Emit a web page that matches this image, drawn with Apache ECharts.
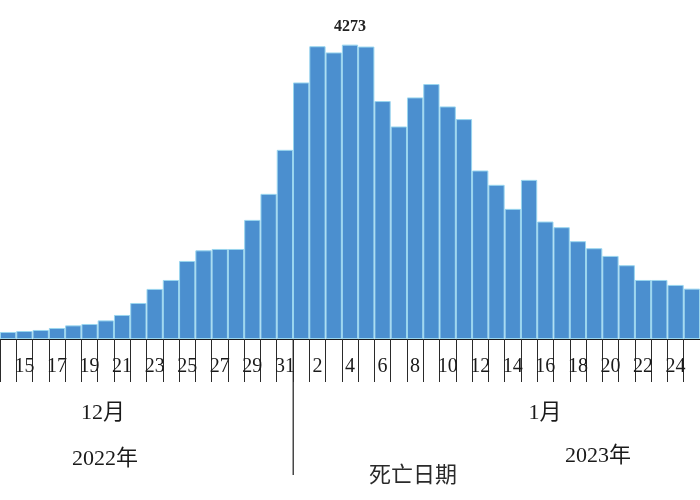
<!DOCTYPE html>
<html>
<head>
<meta charset="utf-8">
<script src="https://cdn.jsdelivr.net/npm/echarts@6/dist/echarts.min.js"></script>
<style>
html,body{margin:0;padding:0;background:#fff;}
#c{width:700px;height:500px;}
</style>
</head>
<body>
<div id="c"></div>
<script>
// Categories: days from 2022-12-14 to 2023-01-25
const days = ['14','15','16','17','18','19','20','21','22','23','24','25','26','27','28','29','30','31',
  '1','2','3','4','5','6','7','8','9','10','11','12','13','14','15','16','17','18','19','20','21','22','23','24','25'];
// Deaths per day
const deaths = [102,116,131,160,198,218,270,349,523,727,857,1133,1287,1307,1307,1729,2107,2746,
  3724,4250,4160,4273,4245,3454,3085,3507,3701,3376,3192,2446,2238,1889,2310,1705,1623,1420,1318,1206,1071,857,857,785,731];
const peakLabel = '4273';
const monthLabels = ['12月','1月'];
const yearLabels = ['2022年','2023年'];
const axisTitle = '死亡日期';

const chart = echarts.init(document.getElementById('c'), null, {renderer:'canvas'});
const serif = '"Liberation Serif","Times New Roman",serif';
const cjk = '"Liberation Serif","Noto Sans CJK SC",serif';
chart.setOption({
  animation:false,
  grid:{left:-3.8, right:-5.7, top:29, bottom:161, containLabel:false},
  xAxis:{
    type:'category',
    data:days,
    boundaryGap:true,
    axisLine:{show:true, lineStyle:{color:'#1a1a1a', width:1}},
    axisTick:{show:true, interval:0, length:43, alignWithLabel:false, lineStyle:{color:'#2a2a2a', width:1}},
    axisLabel:{
      interval:function(i){return i%2===1;},
      fontFamily:serif, fontSize:20, color:'#1a1a1a', margin:18
    }
  },
  yAxis:{type:'value', min:0, max:4500, show:false, splitLine:{show:false}},
  series:[{
    type:'bar',
    data:deaths.map(function(v){
      if (String(v)===peakLabel) {
        return {value:v, label:{show:true, position:'top', distance:10, formatter:peakLabel,
          fontFamily:serif, fontWeight:'bold', fontSize:16, color:'#222'}};
      }
      return v;
    }),
    barCategoryGap:'0%',
    itemStyle:{color:'#4b8fcf', borderColor:'#9ad6ef', borderWidth:1}
  }],
  graphic:[
    {type:'line', shape:{x1:293.2,y1:339,x2:293.2,y2:475}, style:{stroke:'#1a1a1a', lineWidth:1.2}},
    {type:'text', x:103, y:413, style:{text:monthLabels[0], font:'22px '+cjk, fill:'#1a1a1a', align:'center', verticalAlign:'middle'}},
    {type:'text', x:545, y:413, style:{text:monthLabels[1], font:'22px '+cjk, fill:'#1a1a1a', align:'center', verticalAlign:'middle'}},
    {type:'text', x:105, y:459, style:{text:yearLabels[0], font:'22px '+cjk, fill:'#1a1a1a', align:'center', verticalAlign:'middle'}},
    {type:'text', x:598, y:456, style:{text:yearLabels[1], font:'22px '+cjk, fill:'#1a1a1a', align:'center', verticalAlign:'middle'}},
    {type:'text', x:413, y:474, style:{text:axisTitle, font:'22px "Noto Sans CJK SC",sans-serif', fill:'#2a2a2a', align:'center', verticalAlign:'middle'}}
  ]
});
</script>
</body>
</html>
